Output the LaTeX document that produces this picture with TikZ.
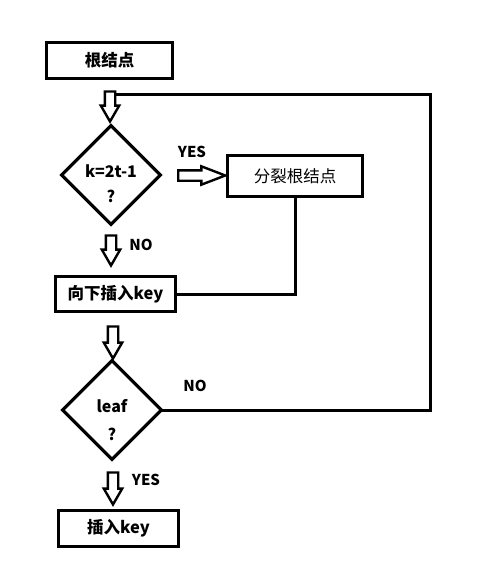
\documentclass[tikz,border=0pt]{standalone}
\usepackage{fontspec}
\setmainfont{Noto Sans CJK SC}
\usetikzlibrary{shapes.geometric,shapes.arrows}
\tikzset{
  box/.style={draw, line width=3.2pt, fill=white, inner sep=0pt, font=\bfseries\fontsize{16.5}{19}\selectfont},
  dia/.style={draw, diamond, line width=3.2pt, inner sep=0pt, minimum width=100pt, minimum height=100pt},
  dtext/.style={font=\bfseries\fontsize{16}{19}\selectfont, inner sep=0pt},
  lab/.style={font=\bfseries\fontsize{15}{17}\selectfont, inner sep=0pt},
  conn/.style={line width=3pt, line cap=rect},
  harrow/.style={single arrow, draw, fill=white, line width=2.4pt, inner xsep=0pt, inner ysep=4pt,
    single arrow head extend=4pt, minimum width=18pt, single arrow tip angle=60},
}
\begin{document}
\begin{tikzpicture}[x=1pt,y=-1pt]
\useasboundingbox (0,0) rectangle (492,586);
% nodes
\node[box, minimum width=126pt, minimum height=36pt] (root) at (109.5,60.5) {根结点};
\node[dia] (d1) at (111,175) {};
\node[dtext] (d1a) at (111,171) {k=2t-1};
\node[dtext] (d1b) at (111,196) {?};
\node[box, minimum width=135pt, minimum height=41pt, font=\fontsize{16.5}{19}\selectfont] (split) at (295,176) {分裂根结点};
\node[box, minimum width=120pt, minimum height=35pt] (down) at (115.5,294) {向下插入key};
\node[dia] (d2) at (112,410) {};
\node[dtext] (d2a) at (112,406) {leaf};
\node[dtext] (d2b) at (112,434) {?};
\node[box, minimum width=120pt, minimum height=36pt] (ins) at (118.5,528.5) {插入key};
% labels
\node[lab] (l1) at (192,152) {YES};
\node[lab] (l2) at (141,245) {NO};
\node[lab] (l3) at (195,386) {NO};
\node[lab] (l4) at (146,480) {YES};
% connectors
\coordinate (rc) at (430,94);
\draw[conn] (d2.east) -- (d2.east -| rc) -- (rc) -- (rc -| root.south);
\draw[conn] (split.south) |- (down.east);
% hollow arrows
\node[harrow, rotate=-90, minimum height=30pt] (a1) at (110,102) {};
\node[harrow, minimum height=47pt, single arrow tip angle=42] (ay) at (195,175.5) {};
\node[harrow, rotate=-90, minimum height=30pt] (a2) at (111,246) {};
\node[harrow, rotate=-90, minimum height=32pt] (a3) at (113,338) {};
\node[harrow, rotate=-90, minimum height=32pt] (a4) at (113,484) {};
\end{tikzpicture}
\end{document}
